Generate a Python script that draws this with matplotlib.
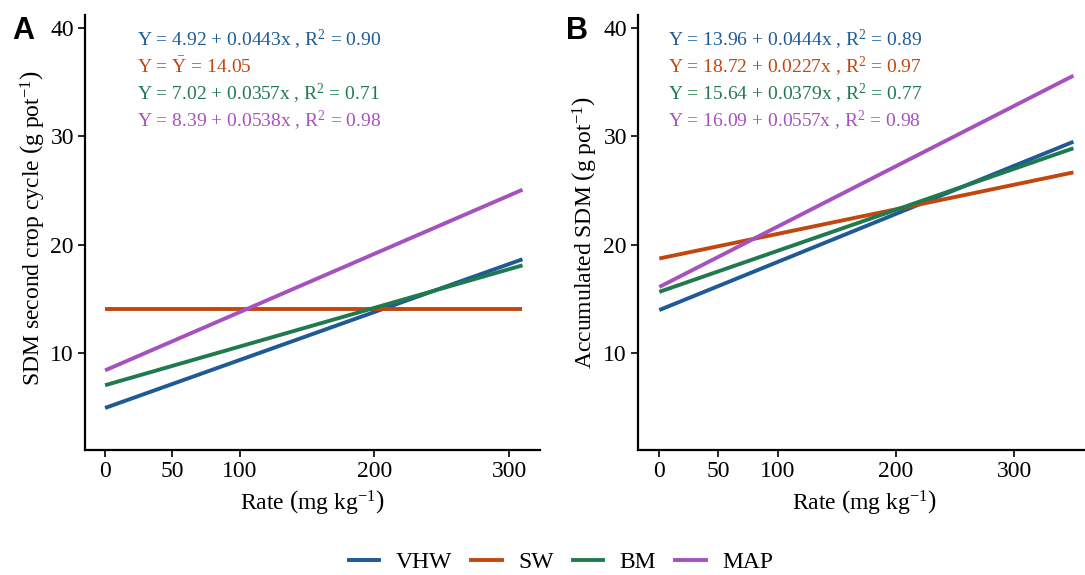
import matplotlib.pyplot as plt
from matplotlib.lines import Line2D

plt.rcParams['font.family'] = 'Liberation Serif'
plt.rcParams['mathtext.fontset'] = 'custom'
plt.rcParams['mathtext.rm'] = 'Liberation Serif'
plt.rcParams['mathtext.it'] = 'Liberation Serif:italic'

sources = ['VHW', 'SW', 'BM', 'MAP']
colors = ['#1D5A96', '#C2470F', '#207A4F', '#A652BE']

# panel A: fitted lines, value at rate 0 and at the last rate
x_a = [0, 310]
y_a_start = [4.92, 14.05, 7.02, 8.39]
y_a_end = [18.65, 14.05, 18.09, 25.07]
eq_a = ['Y = 4.92 + 0.0443x , R$^2$ = 0.90',
        'Y = $\\bar{\\mathrm{Y}}$ = 14.05',
        'Y = 7.02 + 0.0357x , R$^2$ = 0.71',
        'Y = 8.39 + 0.0538x , R$^2$ = 0.98']

# panel B
x_b = [0, 350]
y_b_start = [13.96, 18.72, 15.64, 16.09]
y_b_end = [29.5, 26.67, 28.9, 35.6]
eq_b = ['Y = 13.96 + 0.0444x , R$^2$ = 0.89',
        'Y = 18.72 + 0.0227x , R$^2$ = 0.97',
        'Y = 15.64 + 0.0379x , R$^2$ = 0.77',
        'Y = 16.09 + 0.0557x , R$^2$ = 0.98']

xticks = [0, 50, 100, 200, 300]
yticks = [10, 20, 30, 40]

W, H = 1085, 575
fig = plt.figure(figsize=(W / 100, H / 100), dpi=100)


def make_axes(left, right, top, bottom):
    return fig.add_axes([left / W, 1 - bottom / H, (right - left) / W, (bottom - top) / H])


ax_a = make_axes(85, 540, 15, 450)
ax_b = make_axes(638, 1090, 15, 450)

panels = [
    (ax_a, x_a, y_a_start, y_a_end, eq_a, (-14.9, 323), 'A', 137, 12,
     'SDM second crop cycle $\\left(\\mathrm{g\\ pot^{-1}}\\right)$', 46, 0.51),
    (ax_b, x_b, y_b_start, y_b_end, eq_b, (-18, 364), 'B', 668, 566,
     'Accumulated SDM $\\left(\\mathrm{g\\ pot^{-1}}\\right)$', 598, 0.50),
]

for ax, xs, ys0, ys1, eqs, xlim, tag, tx, tagx, ylab, ylx, yly in panels:
    for i, name in enumerate(sources):
        ax.plot(xs, [ys0[i], ys1[i]], color=colors[i], lw=2.8, solid_capstyle='butt', label=name)
    ax.set_xlim(*xlim)
    ax.set_ylim(1.04, 41.2)
    ax.set_xticks(xticks)
    ax.set_yticks(yticks)
    for s in ['top', 'right']:
        ax.spines[s].set_visible(False)
    for s in ['left', 'bottom']:
        ax.spines[s].set_linewidth(1.6)
    ax.tick_params(direction='out', length=5, width=1.2, labelsize=17, color='black', pad=3)
    ax.set_xlabel('Rate $\\left(\\mathrm{mg\\ kg^{-1}}\\right)$', fontsize=17, labelpad=4)
    ax.set_ylabel(ylab, fontsize=17)
    pos = ax.get_position()
    ax.yaxis.set_label_coords((ylx - pos.x0 * W) / (pos.width * W), yly, transform=ax.transAxes)
    for i, eq in enumerate(eqs):
        fig.text(tx / W, 1 - (40 + 27 * i) / H, eq, color=colors[i], fontsize=14, va='center')
    fig.text(tagx / W, 1 - 31 / H, tag, fontsize=22, fontweight='bold',
             family='Liberation Sans', va='center')

handles = [Line2D([0], [0], color=c, lw=2.8) for c in colors]
fig.legend(handles, sources, loc='center', bbox_to_anchor=(561 / W, 1 - 562 / H), ncol=4, frameon=False,
           fontsize=17, handlelength=1.3, columnspacing=0.8, handletextpad=0.7, borderpad=0.1)

fig.savefig('out.png', dpi=100)
